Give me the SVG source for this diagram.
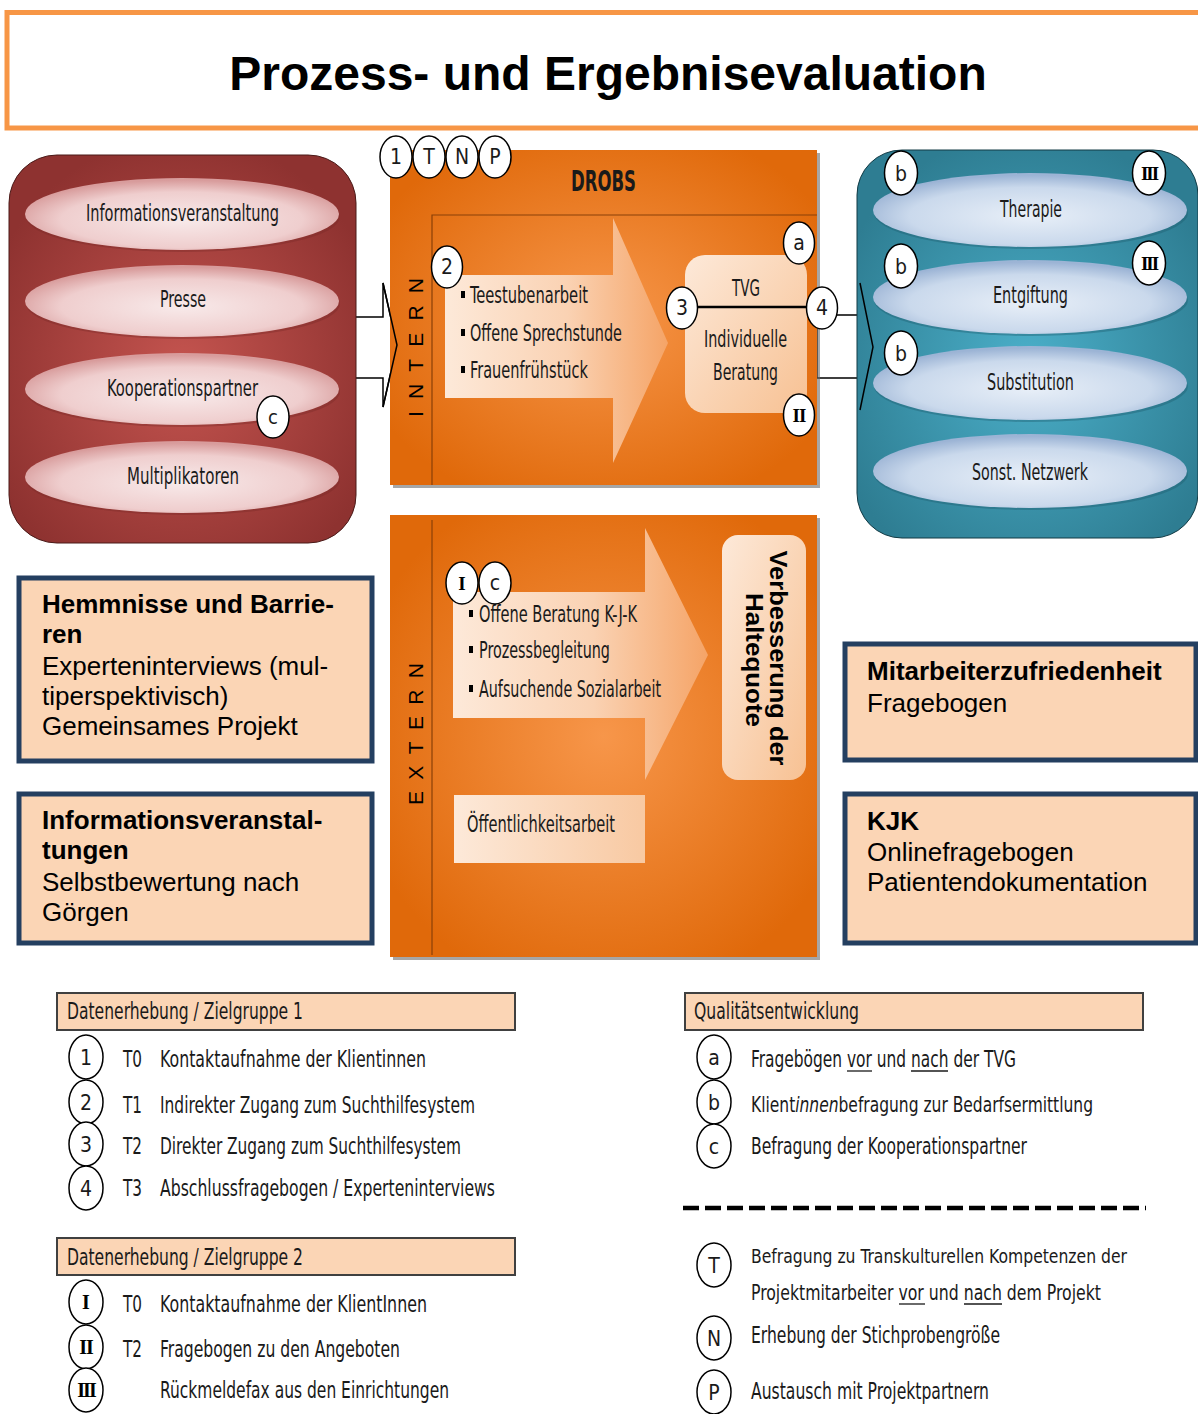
<svg xmlns="http://www.w3.org/2000/svg" width="1198" height="1414" viewBox="0 0 1198 1414">
<style>
.c{font-family:"Liberation Sans Narrow","DejaVu Sans Condensed","Liberation Sans",sans-serif;fill:#1a1a1a}
.a{font-family:"Liberation Sans",Arial,sans-serif;fill:#000}
.ser{font-family:"Liberation Serif","DejaVu Serif",serif;fill:#000}
.circ{fill:#fff;stroke:#000;stroke-width:1.5}
.box{fill:#FBD5B5;stroke:#243F60;stroke-width:5}
.hdr{fill:#FBD5B5;stroke:#404040;stroke-width:2}
.ln{fill:none;stroke:#000;stroke-width:1.5}
.ul{stroke:#1a1a1a;stroke-width:1.3}
</style>
<defs>
<radialGradient id="gRed" cx="50%" cy="55%" r="60%"><stop offset="0" stop-color="#C4544F"/><stop offset="1" stop-color="#8E3230"/></radialGradient>
<radialGradient id="gTeal" cx="50%" cy="55%" r="60%"><stop offset="0" stop-color="#4BAFC9"/><stop offset="1" stop-color="#2E7D92"/></radialGradient>
<radialGradient id="gOr" cx="50%" cy="50%" r="60%"><stop offset="0" stop-color="#F7964A"/><stop offset="1" stop-color="#E0690A"/></radialGradient>
<radialGradient id="gPink" cx="50%" cy="58%" r="55%"><stop offset="0" stop-color="#F8EAEA"/><stop offset="0.7" stop-color="#EFCECE"/><stop offset="1" stop-color="#D89C9C"/></radialGradient>
<radialGradient id="gBlue" cx="50%" cy="58%" r="55%"><stop offset="0" stop-color="#E8EFF8"/><stop offset="0.7" stop-color="#CAD9EC"/><stop offset="1" stop-color="#9CB4D5"/></radialGradient>
<linearGradient id="gArr" x1="0" y1="0" x2="1" y2="0"><stop offset="0" stop-color="#FDE9D9"/><stop offset="0.55" stop-color="#FAD2B3"/><stop offset="1" stop-color="#F5A467"/></linearGradient>
<linearGradient id="gPeach" x1="0" y1="0" x2="1" y2="1"><stop offset="0" stop-color="#FDE9D9"/><stop offset="1" stop-color="#F7C193"/></linearGradient>
<linearGradient id="gPeach2" x1="0" y1="0" x2="1" y2="0"><stop offset="0" stop-color="#FDE9D9"/><stop offset="1" stop-color="#F8C9A2"/></linearGradient>
</defs>

<!-- Title -->
<g id="title">
<rect x="7" y="12.5" width="1196" height="115.5" fill="#fff" stroke="#F79646" stroke-width="5"/>
<text class="a" x="608" y="90" font-size="48" font-weight="bold" text-anchor="middle">Prozess- und Ergebnisevaluation</text>
</g>

<!-- connectors (block arrows) under containers -->
<g id="connectors">
<path d="M338,317 H383 V283 L397,345 L383,407 V378 H338 Z" fill="#fff" stroke="#000" stroke-width="1.5"/>
<path d="M817,315 H860 V283 L873,347 L860,410 V378 H817 Z" fill="#fff" stroke="#000" stroke-width="1.5"/>
</g>

<!-- Red container -->
<g id="zugang">
<rect x="9" y="155" width="347" height="388" rx="48" fill="url(#gRed)" stroke="#4a1a18" stroke-width="1"/>
<g id="e-info"><ellipse cx="183" cy="217" rx="157" ry="35" fill="#7a2a28" opacity="0.4"/><ellipse cx="182" cy="214" rx="157" ry="36" fill="url(#gPink)"/>
<text class="c" x="86" y="221" font-size="23" textLength="193" lengthAdjust="spacingAndGlyphs">Informationsveranstaltung</text></g>
<g id="e-presse"><ellipse cx="183" cy="304" rx="157" ry="35" fill="#7a2a28" opacity="0.4"/><ellipse cx="182" cy="301" rx="157" ry="36" fill="url(#gPink)"/>
<text class="c" x="160" y="307" font-size="23" textLength="46" lengthAdjust="spacingAndGlyphs">Presse</text></g>
<g id="e-koop"><ellipse cx="183" cy="392" rx="157" ry="35" fill="#7a2a28" opacity="0.4"/><ellipse cx="182" cy="389" rx="157" ry="36" fill="url(#gPink)"/>
<text class="c" x="107" y="396" font-size="23" textLength="151" lengthAdjust="spacingAndGlyphs">Kooperationspartner</text></g>
<g id="e-multi"><ellipse cx="183" cy="480" rx="157" ry="35" fill="#7a2a28" opacity="0.4"/><ellipse cx="182" cy="477" rx="157" ry="36" fill="url(#gPink)"/>
<text class="c" x="127" y="484" font-size="23" textLength="112" lengthAdjust="spacingAndGlyphs">Multiplikatoren</text></g>
<g id="m-c1"><ellipse class="circ" cx="273" cy="417" rx="16" ry="21"/><text class="c" x="273" y="424" font-size="20" text-anchor="middle">c</text></g>
</g>

<!-- Teal container -->
<g id="angebote">
<rect x="857" y="150" width="341" height="388" rx="45" fill="url(#gTeal)" stroke="#123a44" stroke-width="1"/>
<g id="e-therapie"><ellipse cx="1031" cy="213" rx="157" ry="36" fill="#1f5d6d" opacity="0.4"/><ellipse cx="1030" cy="210" rx="157" ry="37" fill="url(#gBlue)"/>
<text class="c" x="1000" y="217" font-size="23" textLength="62" lengthAdjust="spacingAndGlyphs">Therapie</text></g>
<g id="e-entgiftung"><ellipse cx="1031" cy="300" rx="157" ry="36" fill="#1f5d6d" opacity="0.4"/><ellipse cx="1030" cy="297" rx="157" ry="37" fill="url(#gBlue)"/>
<text class="c" x="993" y="303" font-size="23" textLength="75" lengthAdjust="spacingAndGlyphs">Entgiftung</text></g>
<g id="e-substitution"><ellipse cx="1031" cy="386" rx="157" ry="36" fill="#1f5d6d" opacity="0.4"/><ellipse cx="1030" cy="383" rx="157" ry="37" fill="url(#gBlue)"/>
<text class="c" x="987" y="390" font-size="23" textLength="87" lengthAdjust="spacingAndGlyphs">Substitution</text></g>
<g id="e-netzwerk"><ellipse cx="1031" cy="474" rx="157" ry="36" fill="#1f5d6d" opacity="0.4"/><ellipse cx="1030" cy="471" rx="157" ry="37" fill="url(#gBlue)"/>
<text class="c" x="972" y="480" font-size="23" textLength="116" lengthAdjust="spacingAndGlyphs">Sonst. Netzwerk</text></g>
<g id="m-b1"><ellipse class="circ" cx="901" cy="173" rx="16.5" ry="22"/><text class="c" x="901" y="181" font-size="21" text-anchor="middle">b</text></g>
<g id="m-b2"><ellipse class="circ" cx="901" cy="266" rx="16.5" ry="22"/><text class="c" x="901" y="274" font-size="21" text-anchor="middle">b</text></g>
<g id="m-b3"><ellipse class="circ" cx="901" cy="353" rx="16.5" ry="22"/><text class="c" x="901" y="361" font-size="21" text-anchor="middle">b</text></g>
<g id="m-III1"><ellipse class="circ" cx="1149" cy="173" rx="16.5" ry="22"/><text class="ser" x="1149" y="180" font-size="19" font-weight="bold" text-anchor="middle" letter-spacing="-2">III</text></g>
<g id="m-III2"><ellipse class="circ" cx="1149" cy="263" rx="16.5" ry="22"/><text class="ser" x="1149" y="270" font-size="19" font-weight="bold" text-anchor="middle" letter-spacing="-2">III</text></g>
</g>

<!-- DROBS intern -->
<g id="drobs">
<rect x="393" y="153" width="427" height="335" fill="#6b6b6b" opacity="0.6"/>
<rect x="390" y="150" width="427" height="335" fill="url(#gOr)"/>
<path d="M432,485 V215 H817" fill="none" stroke="#8a4008" stroke-width="1.2"/>
<text class="c" x="571" y="191" font-size="28" font-weight="bold" textLength="65" lengthAdjust="spacingAndGlyphs">DROBS</text>
<text class="a" transform="translate(423,417) rotate(-90)" x="0" y="0" font-size="21" textLength="139" lengthAdjust="spacing" fill="#1a1a1a">INTERN</text>
<g id="intern-angebote">
<path d="M445,275 H613 V218 L668,343 L613,463 V398 H445 Z" fill="url(#gArr)"/>
<rect x="461" y="291" width="4" height="7" fill="#000"/>
<rect x="461" y="329" width="4" height="7" fill="#000"/>
<rect x="461" y="366" width="4" height="7" fill="#000"/>
<text class="c" x="470" y="303" font-size="23" textLength="118" lengthAdjust="spacingAndGlyphs">Teestubenarbeit</text>
<text class="c" x="470" y="341" font-size="23" textLength="152" lengthAdjust="spacingAndGlyphs">Offene Sprechstunde</text>
<text class="c" x="470" y="378" font-size="23" textLength="118" lengthAdjust="spacingAndGlyphs">Frauenfrühstück</text>
</g>
<g id="tvg">
<rect x="685" y="255" width="122" height="158" rx="20" fill="url(#gPeach)"/>
<line x1="697" y1="307" x2="807" y2="307" stroke="#000" stroke-width="2.5"/>
<text class="c" x="732" y="296" font-size="23" textLength="28" lengthAdjust="spacingAndGlyphs">TVG</text>
<text class="c" x="704" y="347" font-size="23" textLength="83" lengthAdjust="spacingAndGlyphs">Individuelle</text>
<text class="c" x="713" y="380" font-size="23" textLength="65" lengthAdjust="spacingAndGlyphs">Beratung</text>
</g>
<g id="m-1"><ellipse class="circ" cx="396" cy="157" rx="16" ry="21"/><text class="c" x="396" y="164" font-size="21" text-anchor="middle">1</text></g>
<g id="m-T"><ellipse class="circ" cx="429" cy="157" rx="16" ry="21"/><text class="c" x="429" y="164" font-size="21" text-anchor="middle">T</text></g>
<g id="m-N"><ellipse class="circ" cx="462" cy="157" rx="16" ry="21"/><text class="c" x="462" y="164" font-size="21" text-anchor="middle">N</text></g>
<g id="m-P"><ellipse class="circ" cx="495" cy="157" rx="16" ry="21"/><text class="c" x="495" y="164" font-size="21" text-anchor="middle">P</text></g>
<g id="m-2"><ellipse class="circ" cx="447" cy="267" rx="15.5" ry="21"/><text class="c" x="447" y="274" font-size="21" text-anchor="middle">2</text></g>
<g id="m-3"><ellipse class="circ" cx="682" cy="308" rx="15.5" ry="21"/><text class="c" x="682" y="315" font-size="21" text-anchor="middle">3</text></g>
<g id="m-a"><ellipse class="circ" cx="799" cy="243" rx="15.5" ry="21"/><text class="c" x="799" y="250" font-size="21" text-anchor="middle">a</text></g>
<g id="m-II"><ellipse class="circ" cx="799" cy="415" rx="15.5" ry="21"/><text class="ser" x="799" y="422" font-size="19" font-weight="bold" text-anchor="middle" letter-spacing="-1">II</text></g>
</g>

<!-- arrow head outlines over containers, circle 4 -->
<g id="connectors-heads">
<polyline class="ln" points="383,283 397,345 383,407"/>
<polyline class="ln" points="860,283 873,347 860,410"/>
<g id="m-4"><ellipse class="circ" cx="822" cy="308" rx="15.5" ry="21"/><text class="c" x="822" y="315" font-size="21" text-anchor="middle">4</text></g>
</g>

<!-- DROBS extern -->
<g id="extern">
<rect x="393" y="518" width="427" height="442" fill="#6b6b6b" opacity="0.6"/>
<rect x="390" y="515" width="427" height="442" fill="url(#gOr)"/>
<line x1="432" y1="520" x2="432" y2="955" stroke="#8a4008" stroke-width="1.2"/>
<text class="a" transform="translate(423,805) rotate(-90)" x="0" y="0" font-size="21" textLength="142" lengthAdjust="spacing" fill="#1a1a1a">EXTERN</text>
<g id="extern-angebote">
<path d="M453,592 H645 V528 L708,655 L645,780 V718 H453 Z" fill="url(#gArr)"/>
<rect x="469" y="610" width="4" height="7" fill="#000"/>
<rect x="469" y="646" width="4" height="7" fill="#000"/>
<rect x="469" y="685" width="4" height="7" fill="#000"/>
<text class="c" x="479" y="622" font-size="23" textLength="158" lengthAdjust="spacingAndGlyphs">Offene Beratung K-J-K</text>
<text class="c" x="479" y="658" font-size="23" textLength="131" lengthAdjust="spacingAndGlyphs">Prozessbegleitung</text>
<text class="c" x="479" y="697" font-size="23" textLength="182" lengthAdjust="spacingAndGlyphs">Aufsuchende Sozialarbeit</text>
</g>
<g id="m-I"><ellipse class="circ" cx="462" cy="583" rx="16" ry="21"/><text class="ser" x="462" y="590" font-size="19" font-weight="bold" text-anchor="middle">I</text></g>
<g id="m-c2"><ellipse class="circ" cx="495" cy="583" rx="16" ry="21"/><text class="c" x="495" y="590" font-size="21" text-anchor="middle">c</text></g>
<g id="oeffentlichkeit">
<rect x="454" y="795" width="191" height="68" fill="url(#gPeach2)"/>
<text class="c" x="467" y="832" font-size="23" textLength="148" lengthAdjust="spacingAndGlyphs">Öffentlichkeitsarbeit</text>
</g>
<g id="haltequote">
<rect x="722" y="535" width="84" height="245" rx="16" fill="url(#gPeach)"/>
<text class="a" transform="translate(770,658) rotate(90)" x="0" y="0" font-size="24" font-weight="bold" text-anchor="middle" textLength="215" lengthAdjust="spacingAndGlyphs" fill="#1a1a1a">Verbesserung der</text>
<text class="a" transform="translate(746,660) rotate(90)" x="0" y="0" font-size="24" font-weight="bold" text-anchor="middle" textLength="134" lengthAdjust="spacingAndGlyphs" fill="#1a1a1a">Haltequote</text>
</g>
</g>

<!-- Info boxes -->
<g id="box-hemmnisse">
<rect class="box" x="19" y="578" width="353" height="183"/>
<text class="a" font-size="26"><tspan x="42" y="613" font-weight="bold">Hemmnisse und Barrie-</tspan><tspan x="42" y="643" font-weight="bold">ren</tspan><tspan x="42" y="675">Experteninterviews (mul-</tspan><tspan x="42" y="705">tiperspektivisch)</tspan><tspan x="42" y="735">Gemeinsames Projekt</tspan></text>
</g>
<g id="box-infoveranstaltungen">
<rect class="box" x="19" y="794" width="353" height="149"/>
<text class="a" font-size="26"><tspan x="42" y="829" font-weight="bold">Informationsveranstal-</tspan><tspan x="42" y="859" font-weight="bold">tungen</tspan><tspan x="42" y="891">Selbstbewertung nach</tspan><tspan x="42" y="921">Görgen</tspan></text>
</g>
<g id="box-mitarbeiter">
<rect class="box" x="845" y="644" width="351" height="116"/>
<text class="a" font-size="26"><tspan x="867" y="680" font-weight="bold">Mitarbeiterzufriedenheit</tspan><tspan x="867" y="712">Fragebogen</tspan></text>
</g>
<g id="box-kjk">
<rect class="box" x="845" y="794" width="351" height="149"/>
<text class="a" font-size="26"><tspan x="867" y="830" font-weight="bold">KJK</tspan><tspan x="867" y="861">Onlinefragebogen</tspan><tspan x="867" y="891">Patientendokumentation</tspan></text>
</g>

<!-- Legend Zielgruppe 1 -->
<g id="legend-zg1">
<rect class="hdr" x="57" y="993" width="458" height="37"/>
<text class="c" x="67" y="1019" font-size="23" textLength="236" lengthAdjust="spacingAndGlyphs">Datenerhebung / Zielgruppe 1</text>
<ellipse class="circ" cx="86" cy="1057" rx="17" ry="22"/><text class="c" x="86" y="1065" font-size="21" text-anchor="middle">1</text>
<text class="c" x="123" y="1067" font-size="23" textLength="19" lengthAdjust="spacingAndGlyphs">T0</text>
<text class="c" x="160" y="1067" font-size="23" textLength="266" lengthAdjust="spacingAndGlyphs">Kontaktaufnahme der Klientinnen</text>
<ellipse class="circ" cx="86" cy="1102" rx="17" ry="22"/><text class="c" x="86" y="1110" font-size="21" text-anchor="middle">2</text>
<text class="c" x="123" y="1113" font-size="23" textLength="19" lengthAdjust="spacingAndGlyphs">T1</text>
<text class="c" x="160" y="1113" font-size="23" textLength="315" lengthAdjust="spacingAndGlyphs">Indirekter Zugang zum Suchthilfesystem</text>
<ellipse class="circ" cx="86" cy="1144" rx="17" ry="22"/><text class="c" x="86" y="1152" font-size="21" text-anchor="middle">3</text>
<text class="c" x="123" y="1154" font-size="23" textLength="19" lengthAdjust="spacingAndGlyphs">T2</text>
<text class="c" x="160" y="1154" font-size="23" textLength="301" lengthAdjust="spacingAndGlyphs">Direkter Zugang zum Suchthilfesystem</text>
<ellipse class="circ" cx="86" cy="1188" rx="17" ry="22"/><text class="c" x="86" y="1196" font-size="21" text-anchor="middle">4</text>
<text class="c" x="123" y="1196" font-size="23" textLength="19" lengthAdjust="spacingAndGlyphs">T3</text>
<text class="c" x="160" y="1196" font-size="23" textLength="335" lengthAdjust="spacingAndGlyphs">Abschlussfragebogen / Experteninterviews</text>
</g>

<!-- Legend Zielgruppe 2 -->
<g id="legend-zg2">
<rect class="hdr" x="57" y="1238" width="458" height="37"/>
<text class="c" x="67" y="1265" font-size="23" textLength="236" lengthAdjust="spacingAndGlyphs">Datenerhebung / Zielgruppe 2</text>
<ellipse class="circ" cx="86" cy="1302" rx="17" ry="22"/><text class="ser" x="86" y="1309" font-size="20" font-weight="bold" text-anchor="middle">I</text>
<text class="c" x="123" y="1312" font-size="23" textLength="19" lengthAdjust="spacingAndGlyphs">T0</text>
<text class="c" x="160" y="1312" font-size="23" textLength="267" lengthAdjust="spacingAndGlyphs">Kontaktaufnahme der KlientInnen</text>
<ellipse class="circ" cx="86" cy="1347" rx="17" ry="22"/><text class="ser" x="86" y="1354" font-size="20" font-weight="bold" text-anchor="middle" letter-spacing="-1">II</text>
<text class="c" x="123" y="1357" font-size="23" textLength="19" lengthAdjust="spacingAndGlyphs">T2</text>
<text class="c" x="160" y="1357" font-size="23" textLength="240" lengthAdjust="spacingAndGlyphs">Fragebogen zu den Angeboten</text>
<ellipse class="circ" cx="86" cy="1390" rx="17" ry="22"/><text class="ser" x="86" y="1397" font-size="20" font-weight="bold" text-anchor="middle" letter-spacing="-2">III</text>
<text class="c" x="160" y="1398" font-size="23" textLength="289" lengthAdjust="spacingAndGlyphs">Rückmeldefax aus den Einrichtungen</text>
</g>

<!-- Legend Qualitaetsentwicklung -->
<g id="legend-qe">
<rect class="hdr" x="685" y="993" width="458" height="37"/>
<text class="c" x="694" y="1019" font-size="23" textLength="165" lengthAdjust="spacingAndGlyphs">Qualitätsentwicklung</text>
<ellipse class="circ" cx="714" cy="1057" rx="17" ry="22"/><text class="c" x="714" y="1065" font-size="21" text-anchor="middle">a</text>
<text class="c" x="751" y="1067" font-size="23" textLength="265" lengthAdjust="spacingAndGlyphs">Fragebögen vor und nach der TVG</text>
<line class="ul" x1="847" y1="1071" x2="872" y2="1071"/>
<line class="ul" x1="911" y1="1071" x2="948" y2="1071"/>
<ellipse class="circ" cx="714" cy="1102" rx="17" ry="22"/><text class="c" x="714" y="1110" font-size="21" text-anchor="middle">b</text>
<text class="c" x="751" y="1112" font-size="22" textLength="342" lengthAdjust="spacingAndGlyphs">Klient<tspan font-style="italic">innen</tspan>befragung zur Bedarfsermittlung</text>
<ellipse class="circ" cx="714" cy="1146" rx="17" ry="22"/><text class="c" x="714" y="1154" font-size="21" text-anchor="middle">c</text>
<text class="c" x="751" y="1154" font-size="23" textLength="276" lengthAdjust="spacingAndGlyphs">Befragung der Kooperationspartner</text>
<line x1="683" y1="1208" x2="1146" y2="1208" stroke="#000" stroke-width="4.5" stroke-dasharray="16 6"/>
<ellipse class="circ" cx="714" cy="1265" rx="17" ry="22"/><text class="c" x="714" y="1273" font-size="21" text-anchor="middle">T</text>
<text class="c" x="751" y="1263" font-size="20" textLength="376" lengthAdjust="spacingAndGlyphs">Befragung zu Transkulturellen Kompetenzen der</text>
<text class="c" x="751" y="1300" font-size="21" textLength="350" lengthAdjust="spacingAndGlyphs">Projektmitarbeiter vor und nach dem Projekt</text>
<line class="ul" x1="899" y1="1304" x2="925" y2="1304"/>
<line class="ul" x1="964" y1="1304" x2="1002" y2="1304"/>
<ellipse class="circ" cx="714" cy="1338" rx="17" ry="22"/><text class="c" x="714" y="1346" font-size="21" text-anchor="middle">N</text>
<text class="c" x="751" y="1343" font-size="23" textLength="249" lengthAdjust="spacingAndGlyphs">Erhebung der Stichprobengröße</text>
<ellipse class="circ" cx="714" cy="1392" rx="17" ry="22"/><text class="c" x="714" y="1400" font-size="21" text-anchor="middle">P</text>
<text class="c" x="751" y="1399" font-size="23" textLength="238" lengthAdjust="spacingAndGlyphs">Austausch mit Projektpartnern</text>
</g>
</svg>
